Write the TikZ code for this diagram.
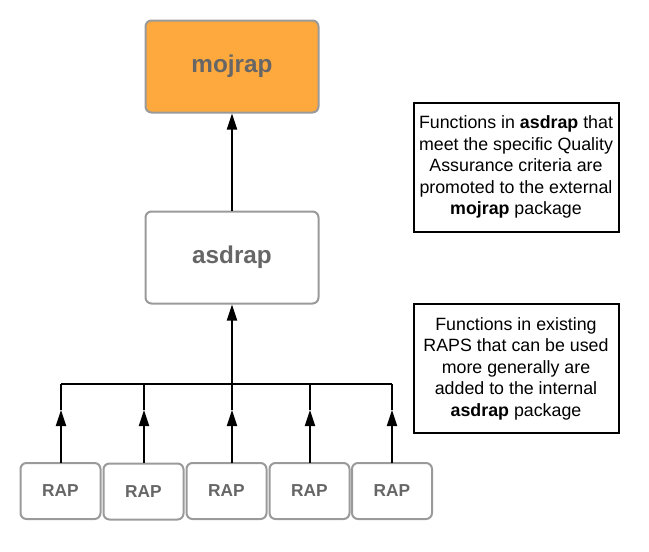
\documentclass[tikz,border=0pt]{standalone}
\usepackage{fontspec}
\setmainfont{Liberation Sans}
\usetikzlibrary{arrows.meta}
\definecolor{boxgray}{HTML}{9A9A9A}
\definecolor{txtgray}{HTML}{666666}
\definecolor{orangefill}{HTML}{FEA93E}
\tikzset{
  pkg/.style={draw=boxgray, line width=2pt, rounded corners=6pt, minimum width=173pt, minimum height=92pt, inner sep=0pt, text=txtgray, font=\fontsize{24.3}{28}\selectfont\bfseries},
  rapbox/.style={draw=boxgray, line width=2pt, rounded corners=6pt, minimum width=80pt, minimum height=56pt, inner sep=0pt, text=txtgray, font=\fontsize{17.3}{20}\selectfont\bfseries},
  note/.style={draw=black, line width=2pt, minimum width=205pt, minimum height=129pt, inner sep=0pt, align=center, font=\fontsize{17.8}{21.5}\selectfont},
  conn/.style={line width=2pt, draw=black},
  arr/.style={conn, -{Triangle[length=16pt,width=10pt]}}
}
\begin{document}
\begin{tikzpicture}[x=1pt,y=-1pt]
\useasboundingbox (0,0) rectangle (649,552);
\node[pkg, fill=orangefill] (moj) at (232,66.5) {mojrap};
\node[pkg, fill=white] (asd) at (232,257.5) {asdrap};
\node[rapbox] (r1) at (60.5,491) {RAP};
\node[rapbox] (r2) at (143.5,491.5) {RAP};
\node[rapbox] (r3) at (226.5,491) {RAP};
\node[rapbox] (r4) at (309.5,491) {RAP};
\node[rapbox] (r5) at (392,491) {RAP};
\node[note] (n1) at (516,167) {Functions in \textbf{asdrap} that\\meet the specific Quality\\Assurance criteria are\\promoted to the external\\\textbf{mojrap} package};
\node[note] (n2) at (516,368.5) {Functions in existing\\RAPS that can be used\\more generally are\\added to the internal\\\textbf{asdrap} package};
% arrows between packages
\draw[arr] (asd.north) -- (moj.south);
\coordinate (bus) at (232,384);
\draw[arr] (bus) -- (asd.south);
\coordinate (bl) at (61,384);
\coordinate (br) at (392,384);
\draw[conn] (bl) -- (br);
% RAP connectors
\foreach \r/\x in {r1/61,r2/144,r3/232,r4/310,r5/392}{
  \coordinate (t\r) at (\x,410);
  \coordinate (b\r) at (\x,384);
  \draw[arr] (\x,463) -- (t\r);
  \draw[conn] (t\r) -- (b\r);
}
\end{tikzpicture}
\end{document}
